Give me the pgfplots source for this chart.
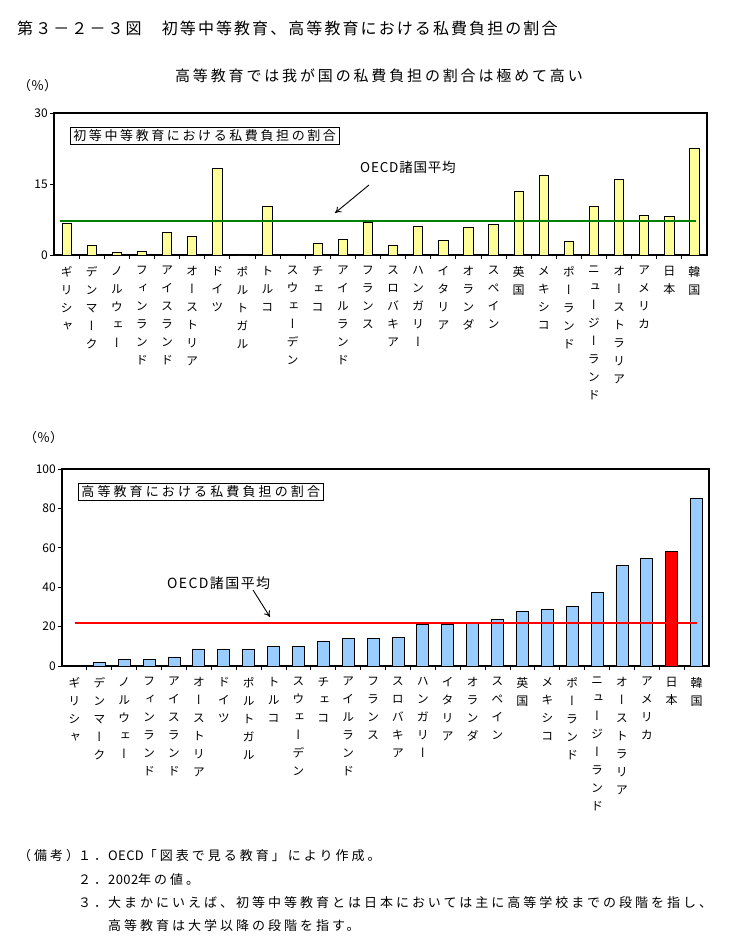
\documentclass[border=0pt]{standalone}
\usepackage{fontspec}
\setmainfont{Noto Sans CJK JP}
\newfontfamily\vfont[RawFeature=+vert]{Noto Sans CJK JP}
\usepackage{pgfplots}
\pgfplotsset{compat=1.18}
\usetikzlibrary{arrows.meta}
\definecolor{lyellow}{RGB}{255,255,153}
\definecolor{lblue}{RGB}{153,204,255}
\definecolor{dgreen}{RGB}{0,128,0}
\protected\def\vs#1{\vsA#1\relax}
\def\vsA#1{\ifx\relax#1\else#1\\\expandafter\vsA\fi}
\newcommand\lat[1]{{\addfontfeatures{LetterSpace=3}#1}}
\pgfplotsset{
  mybar/.style={
    scale only axis, anchor=south west,
    xmin=-0.5, xmax=25.5, ymin=0,
    ybar, bar shift=0pt,
    xtick={0,...,25},
    xticklabels={\vs{ギリシャ},\vs{デンマーク},\vs{ノルウェー},\vs{フィンランド},\vs{アイスランド},\vs{オーストリア},\vs{ドイツ},\vs{ポルトガル},\vs{トルコ},\vs{スウェーデン},\vs{チェコ},\vs{アイルランド},\vs{フランス},\vs{スロバキア},\vs{ハンガリー},\vs{イタリア},\vs{オランダ},\vs{スペイン},\vs{英国},\vs{メキシコ},\vs{ポーランド},\vs{ニュージーランド},\vs{オーストラリア},\vs{アメリカ},\vs{日本},\vs{韓国}},
    minor x tick num=1,
    major x tick style={draw=none},
    minor x tick style={black, line width=0.8bp},
    minor tick length=4bp,
    major tick length=4bp,
    xtick pos=left, ytick pos=left,
    ytick align=outside,
    ytick style={black, line width=0.8bp},
    axis line style={line width=1.8bp},
    xticklabel style={font=\vfont\fontsize{12bp}{18bp}\selectfont, align=center, anchor=north, inner sep=0pt, yshift=-7bp},
    yticklabel style={font=\fontsize{12bp}{14bp}\selectfont, inner sep=2bp},
    /pgf/number format/assume math mode=true,
  }
}
\begin{document}
\begin{tikzpicture}
\begin{scope}[x=1bp,y=-1bp]
\path (0,0) rectangle (734,938);
\node[anchor=west, inner sep=0pt, font=\fontsize{16bp}{18bp}\selectfont\addfontfeatures{LetterSpace=13}] at (17,28) {第３－２－３図　初等中等教育、高等教育における私費負担の割合};
\node[inner sep=0pt, font=\fontsize{15bp}{18bp}\selectfont\addfontfeatures{LetterSpace=19}] at (379,76) {高等教育では我が国の私費負担の割合は極めて高い};
\node[anchor=west, inner sep=0pt, font=\fontsize{13bp}{15bp}\selectfont] at (18,86) {（％）};
\node[anchor=west, inner sep=0pt, font=\fontsize{13bp}{15bp}\selectfont] at (24,438) {（％）};
\end{scope}

% ---------- top chart ----------
\begin{axis}[mybar, at={(54bp,-255bp)}, width=653bp, height=142bp,
  ymax=30, ytick={0,15,30}, bar width=9.3bp]
\addplot[fill=lyellow, draw=black, line width=0.8bp] coordinates {
(0,6.7) (1,2.0) (2,0.5) (3,0.8) (4,4.8) (5,4.0) (6,18.3) (7,0) (8,10.3) (9,0)
(10,2.5) (11,3.3) (12,6.9) (13,2.0) (14,6.1) (15,3.1) (16,5.9) (17,6.5) (18,13.5)
(19,16.8) (20,2.9) (21,10.3) (22,16.0) (23,8.4) (24,8.2) (25,22.6)};
\addplot[dgreen, line width=2bp, sharp plot, no marks] coordinates {(-0.27,7.25) (25.05,7.25)};
\end{axis}

% ---------- bottom chart ----------
\begin{axis}[mybar, at={(62bp,-666bp)}, width=647bp, height=197bp,
  ymax=100, ytick={0,20,...,100}, bar width=12bp]
\addplot[fill=lblue, draw=black, line width=0.8bp] coordinates {
(0,0) (1,2.0) (2,3.4) (3,3.4) (4,4.6) (5,8.5) (6,8.5) (7,8.5) (8,10.0) (9,10.0)
(10,12.5) (11,14.0) (12,14.0) (13,14.6) (14,21.2) (15,21.2) (16,22.0) (17,23.7) (18,27.8)
(19,28.8) (20,30.3) (21,37.4) (22,51.1) (23,54.7) (25,85.1)};
\addplot[fill=red, draw=black, line width=0.8bp] coordinates {(24,58.2)};
\addplot[red, line width=2bp, sharp plot, no marks] coordinates {(0.02,21.8) (25.03,21.8)};
\end{axis}

\begin{scope}[x=1bp,y=-1bp]
\node[draw, line width=0.8bp, anchor=west, inner xsep=3bp, inner ysep=2.5bp, font=\fontsize{13bp}{15bp}\selectfont\addfontfeatures{LetterSpace=20}] at (70,136) {初等中等教育における私費負担の割合};
\node[draw, line width=0.8bp, anchor=west, inner xsep=3bp, inner ysep=2.5bp, font=\fontsize{13bp}{15bp}\selectfont\addfontfeatures{LetterSpace=24}] at (78,492) {高等教育における私費負担の割合};
\node[anchor=west, inner sep=0pt, font=\fontsize{13.5bp}{15bp}\selectfont\addfontfeatures{LetterSpace=6}] at (360,167) {OECD諸国平均};
\draw[-{To[length=6bp,width=7bp]}, line width=0.9bp] (369,185) -- (335,213);
\node[anchor=west, inner sep=0pt, font=\fontsize{14bp}{15bp}\selectfont\addfontfeatures{LetterSpace=10}] at (167,583) {OECD諸国平均};
\draw[-{To[length=6bp,width=7bp]}, line width=0.9bp] (253,590) -- (270,617);
% notes
\begin{scope}[every node/.style={anchor=west, inner sep=0pt, font=\fontsize{13bp}{15bp}\selectfont\addfontfeatures{LetterSpace=23}}]
\node at (18,856) {（備考）};
\node at (78,856) {１．};
\node at (108,856) {\lat{OECD}「図表で見る教育」により作成。};
\node at (78,880) {２．};
\node at (108,880) {\lat{2002}年の値。};
\node at (78,903) {３．};
\node at (108,903) {大まかにいえば、初等中等教育とは日本においては主に高等学校までの段階を指し、};
\node at (108,926) {高等教育は大学以降の段階を指す。};
\end{scope}
\end{scope}
\end{tikzpicture}
\end{document}
